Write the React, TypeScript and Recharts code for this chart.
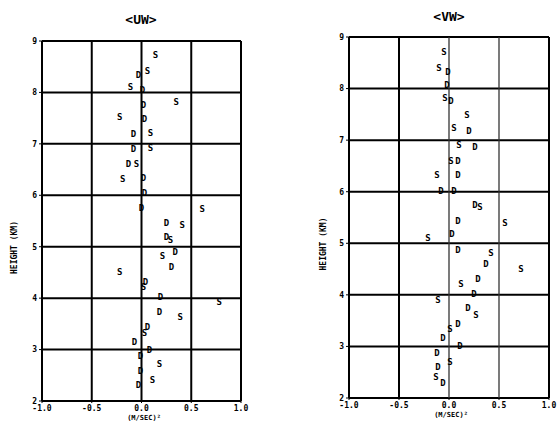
import { ScatterChart, Scatter, XAxis, YAxis, ReferenceLine } from "recharts";

const xTicks = [-1, -0.5, 0, 0.5, 1];
const yTicks = [2, 3, 4, 5, 6, 7, 8, 9];

// <UW> profile, S and D symbols
const uwS: [number, number][] = [
  [0.14, 8.73], [0.06, 8.42], [-0.11, 8.1], [0.35, 7.81], [-0.22, 7.52],
  [0.09, 7.21], [0.09, 6.92], [-0.05, 6.61], [-0.19, 6.31], [0.61, 5.73],
  [0.41, 5.42], [0.29, 5.13], [0.21, 4.82], [-0.22, 4.5], [0.02, 4.21],
  [0.78, 3.92], [0.39, 3.63], [0.03, 3.32], [0.18, 2.72], [0.11, 2.4],
];
const uwD: [number, number][] = [
  [-0.03, 8.34], [0.01, 8.05], [0.02, 7.75], [0.03, 7.48], [-0.08, 7.19],
  [-0.08, 6.9], [-0.13, 6.61], [0.02, 6.33], [0.03, 6.04], [0.0, 5.76],
  [0.25, 5.46], [0.25, 5.19], [0.34, 4.89], [0.3, 4.6], [0.04, 4.31],
  [0.19, 4.02], [0.18, 3.73], [0.06, 3.44], [-0.07, 3.14], [0.08, 3.0],
  [-0.01, 2.87], [-0.01, 2.58], [-0.03, 2.31],
];

// <VW> profile
const vwS: [number, number][] = [
  [-0.05, 8.7], [-0.1, 8.4], [-0.04, 7.82], [0.18, 7.49], [0.05, 7.24],
  [0.1, 6.91], [0.02, 6.6], [-0.12, 6.33], [0.31, 5.71], [0.56, 5.4],
  [-0.21, 5.1], [0.42, 4.81], [0.72, 4.5], [0.12, 4.21], [-0.11, 3.9],
  [0.27, 3.61], [0.01, 3.34], [0.01, 2.7], [-0.13, 2.4],
];
const vwD: [number, number][] = [
  [-0.01, 8.32], [-0.02, 8.07], [0.02, 7.76], [0.2, 7.18], [0.26, 6.87],
  [0.09, 6.6], [0.09, 6.33], [-0.08, 6.02], [0.05, 6.02], [0.26, 5.74],
  [0.09, 5.43], [0.03, 5.18], [0.09, 4.87], [0.37, 4.6], [0.29, 4.31],
  [0.25, 4.02], [0.19, 3.75], [0.09, 3.44], [-0.06, 3.17], [0.11, 3.0],
  [-0.12, 2.88], [-0.11, 2.6], [-0.06, 2.29],
];

const font = "'DejaVu Sans Mono', monospace";

const toPts = (a: [number, number][]) => a.map(([x, y]) => ({ x, y }));

const letter = (ch: string) => (p: any) => (
  <text
    x={p.cx}
    y={p.cy}
    textAnchor="middle"
    dominantBaseline="central"
    fontSize={9}
    fontWeight="bold"
    fontFamily={font}
    fill="#000"
  >
    {ch}
  </text>
);

const fmtX = (v: number) => v.toFixed(1);

type PanelProps = {
  left: number;
  width: number;
  margin: { top: number; right: number; bottom: number; left: number };
  labelOffset: number;
  s: [number, number][];
  d: [number, number][];
  thinX?: number[];
};

const Panel = ({ left, width, margin, labelOffset, s, d, thinX = [] }: PanelProps) => (
  <div style={{ position: "absolute", left, top: 0 }}>
    <ScatterChart width={width} height={425} margin={margin}>
      <XAxis
        type="number"
        dataKey="x"
        domain={[-1, 1]}
        ticks={xTicks}
        tickFormatter={fmtX}
        axisLine={false}
        tickLine={{ stroke: "#000" }}
        tickSize={2}
        height={14}
        tick={{ fontSize: 8, fontWeight: "bold", fontFamily: font, fill: "#000" }}
      />
      <YAxis
        type="number"
        dataKey="y"
        domain={[2, 9]}
        ticks={yTicks}
        axisLine={false}
        tickLine={{ stroke: "#000" }}
        tickSize={3}
        width={20}
        tick={{ fontSize: 8, fontWeight: "bold", fontFamily: font, fill: "#000" }}
        label={{
          value: "HEIGHT (KM)",
          angle: -90,
          position: "left",
          offset: labelOffset,
          style: { fontSize: 8, fontWeight: "bold", fontFamily: font, fill: "#000" },
        }}
      />
      {yTicks.map((v) => (
        <ReferenceLine key={"h" + v} y={v} stroke="#000" strokeWidth={2} />
      ))}
      {xTicks.map((v) => (
        <ReferenceLine
          key={"v" + v}
          x={v}
          stroke={thinX.includes(v) ? "#333" : "#000"}
          strokeWidth={thinX.includes(v) ? 1.3 : 2}
        />
      ))}
      <Scatter data={toPts(s)} shape={letter("S")} isAnimationActive={false} />
      <Scatter data={toPts(d)} shape={letter("D")} isAnimationActive={false} />
    </ScatterChart>
  </div>
);

const textStyle = {
  position: "absolute" as const,
  fontFamily: font,
  fontWeight: "bold" as const,
  color: "#000",
  transform: "translateX(-50%)",
  whiteSpace: "nowrap" as const,
};

export default function App() {
  return (
    <div style={{ position: "absolute", left: 0, top: 0, width: 559, height: 425, background: "#fff", overflow: "hidden" }}>
      <Panel
        left={0}
        width={280}
        margin={{ top: 41, right: 39, bottom: 10, left: 22 }}
        labelOffset={8}
        s={uwS}
        d={uwD}
      />
      <Panel
        left={280}
        width={279}
        margin={{ top: 37, right: 10, bottom: 13, left: 49 }}
        labelOffset={6}
        s={vwS}
        d={vwD}
        thinX={[0, 0.5]}
      />
      <div style={{ ...textStyle, left: 141, top: 12, fontSize: 13 }}>&lt;UW&gt;</div>
      <div style={{ ...textStyle, left: 449, top: 9, fontSize: 13 }}>&lt;VW&gt;</div>
      <div style={{ ...textStyle, left: 144, top: 414, fontSize: 7 }}>(M/SEC)²</div>
      <div style={{ ...textStyle, left: 451, top: 411, fontSize: 7 }}>(M/SEC)²</div>
    </div>
  );
}
